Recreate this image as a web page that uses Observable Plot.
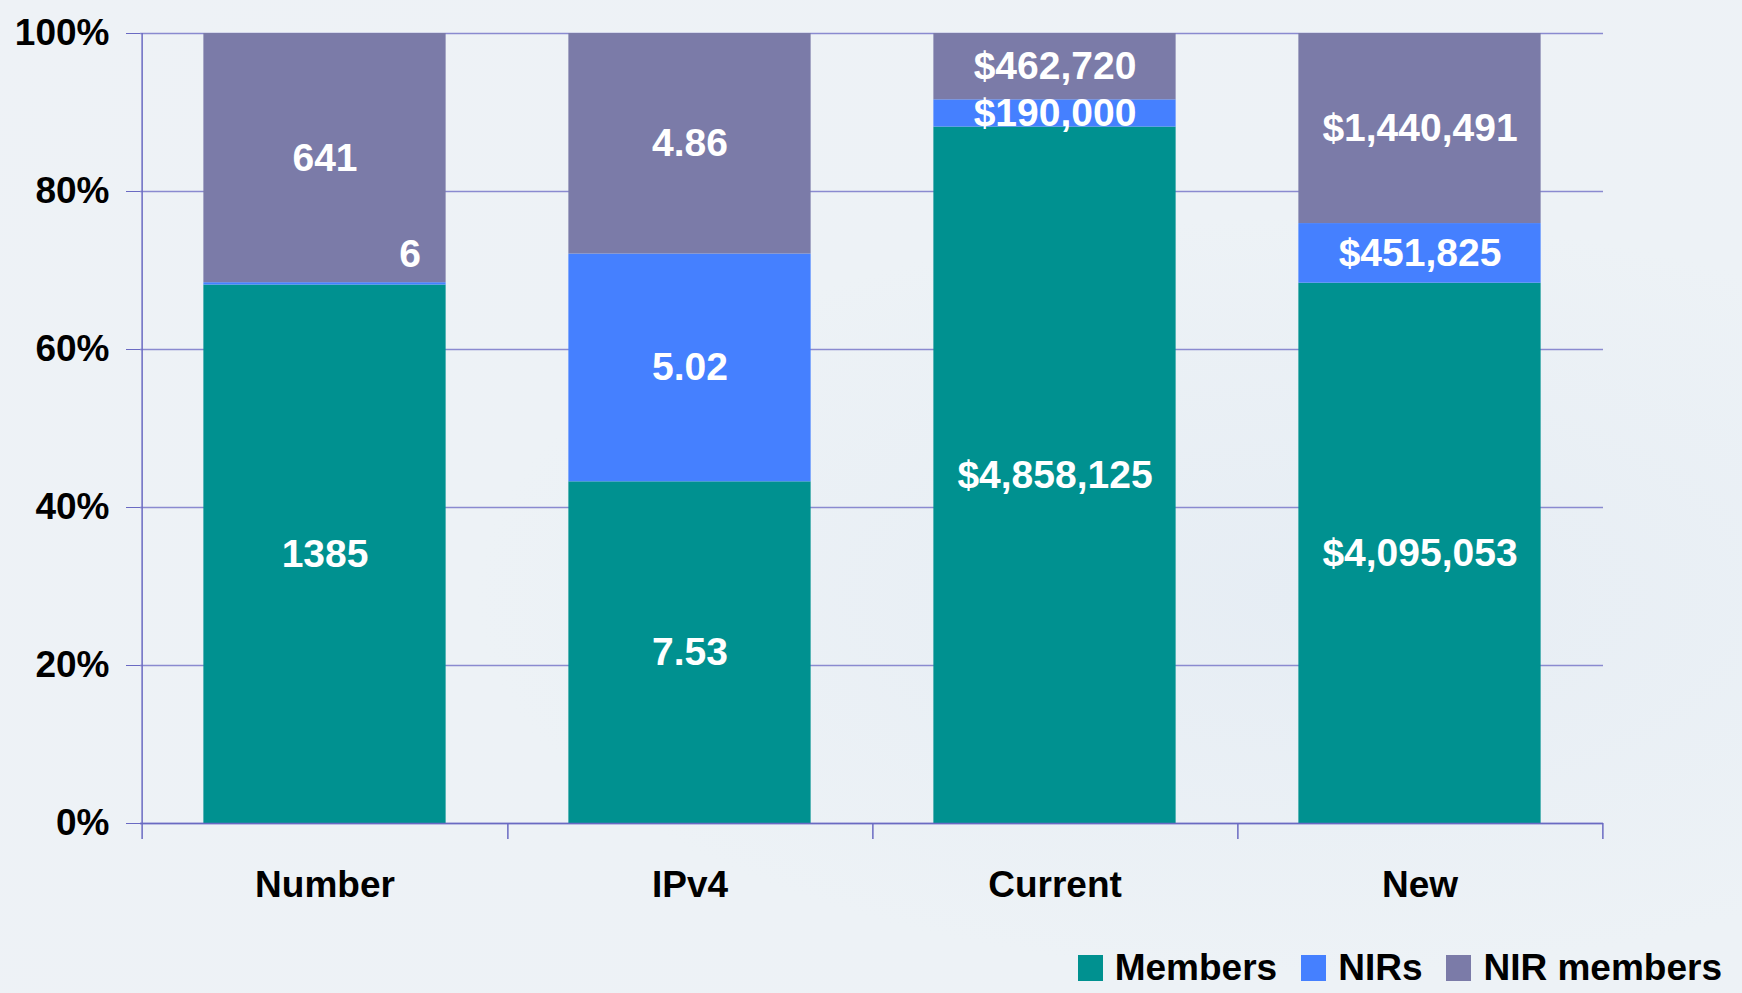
<!DOCTYPE html>
<html>
<head>
<meta charset="utf-8">
<script src="https://cdn.jsdelivr.net/npm/d3@7"></script>
<script src="https://cdn.jsdelivr.net/npm/@observablehq/plot@0.6"></script>
<style>
  html, body { margin: 0; padding: 0; }
  body {
    width: 1742px; height: 993px; overflow: hidden;
    background: radial-gradient(ellipse at 75% 60%, #e6edf4 0%, #edf2f6 45%, #eef2f6 100%);
    font-family: "Liberation Sans", Arial, sans-serif;
  }
  #chart svg { display: block; }
  #legend {
    display: flex; justify-content: flex-end; align-items: center;
    height: 63px; padding-right: 20px; box-sizing: border-box; padding-top: 12px;
    font: bold 37px "Liberation Sans", Arial, sans-serif; color: #000;
  }
  .item { display: flex; align-items: center; margin-left: 24px; }
  .sw { width: 25px; height: 26px; margin-right: 12px; }
</style>
</head>
<body>
<div id="chart"></div>
<div id="legend"></div>
<script>
const categories = ["Number", "IPv4", "Current", "New"];
const series = ["Members", "NIRs", "NIR members"];
const colors = ["#009190", "#4580ff", "#7b7ba8"];
const membersValues = [1385, 7.53, 4858125, 4095053];
const nirsValues = [6, 5.02, 190000, 451825];
const nirMembersValues = [641, 4.86, 462720, 1440491];
const membersLabels = ["1385", "7.53", "$4,858,125", "$4,095,053"];
const nirsLabels = ["6", "5.02", "$190,000", "$451,825"];
const nirMembersLabels = ["641", "4.86", "$462,720", "$1,440,491"];
const yTicks = [0, 0.2, 0.4, 0.6, 0.8, 1];

const valuesBySeries = [membersValues, nirsValues, nirMembersValues];
const labelsBySeries = [membersLabels, nirsLabels, nirMembersLabels];
const data = [];
categories.forEach((c, ci) => {
  const total = valuesBySeries.reduce((s, arr) => s + arr[ci], 0);
  series.forEach((s, si) => {
    data.push({category: c, series: s, value: valuesBySeries[si][ci],
               label: labelsBySeries[si][ci], share: valuesBySeries[si][ci] / total});
  });
});

const W = 1742, H = 930;
const mL = 140, mR = 139, mT = 33, mB = 107;
const step = (W - mL - mR) / categories.length;
const barInset = (step - 243) / 2;
const gridColor = "#8a8ad0";
const axisColor = "#6a6ac2";

const stackOpts = {offset: "normalize", order: null};
const chart = Plot.plot({
  width: W, height: H,
  marginLeft: mL, marginRight: mR, marginTop: mT, marginBottom: mB,
  style: {background: "transparent", fontFamily: "'Liberation Sans', Arial, sans-serif", fontWeight: "bold", fontSize: "37px", color: "#000"},
  x: {domain: categories, padding: 0, label: null},
  y: {domain: [0, 1], label: null},
  color: {domain: series, range: colors},
  marks: [
    Plot.gridY(yTicks, {stroke: gridColor, strokeOpacity: 1, strokeWidth: 1.3}),
    Plot.barY(data, Plot.stackY(stackOpts, {x: "category", y: "value", fill: "series", insetLeft: barInset, insetRight: barInset})),
    Plot.ruleY([0], {stroke: axisColor, strokeWidth: 1.5}),
    Plot.ruleX([categories[0]], {x: d => d, dx: -step / 2, y1: 1, y2: 0, insetBottom: -16, stroke: axisColor, strokeWidth: 1.5}),
    Plot.ruleX(categories, {x: d => d, dx: step / 2, y1: 0, y2: 0, insetBottom: -16, stroke: axisColor, strokeWidth: 1.5}),
    Plot.axisY(yTicks, {tickFormat: d => Math.round(d * 100) + "%", tickSize: 14, tickPadding: 17, stroke: axisColor, fontSize: 37, fontWeight: "bold"}),
    Plot.axisX({tickSize: 0, tickPadding: 47, fontSize: 37, fontWeight: "bold"}),
    Plot.text(data, Plot.stackY(stackOpts, {x: "category", y: "value", z: "series",
      text: d => d.share < 0.01 ? "" : d.label, fill: "white", fontSize: 39, fontWeight: "bold"})),
    Plot.text(data, Plot.stackY(stackOpts, {x: "category", y: "value", z: "series",
      text: d => d.share < 0.01 ? d.label : "", fill: "white", fontSize: 39, fontWeight: "bold", dx: 85, dy: -29}))
  ]
});
document.getElementById("chart").appendChild(chart);

const legend = document.getElementById("legend");
series.forEach((s, i) => {
  const item = document.createElement("div");
  item.className = "item";
  const sw = document.createElement("span");
  sw.className = "sw";
  sw.style.background = colors[i];
  const t = document.createElement("span");
  t.textContent = s;
  item.appendChild(sw); item.appendChild(t);
  legend.appendChild(item);
});
</script>
</body>
</html>
